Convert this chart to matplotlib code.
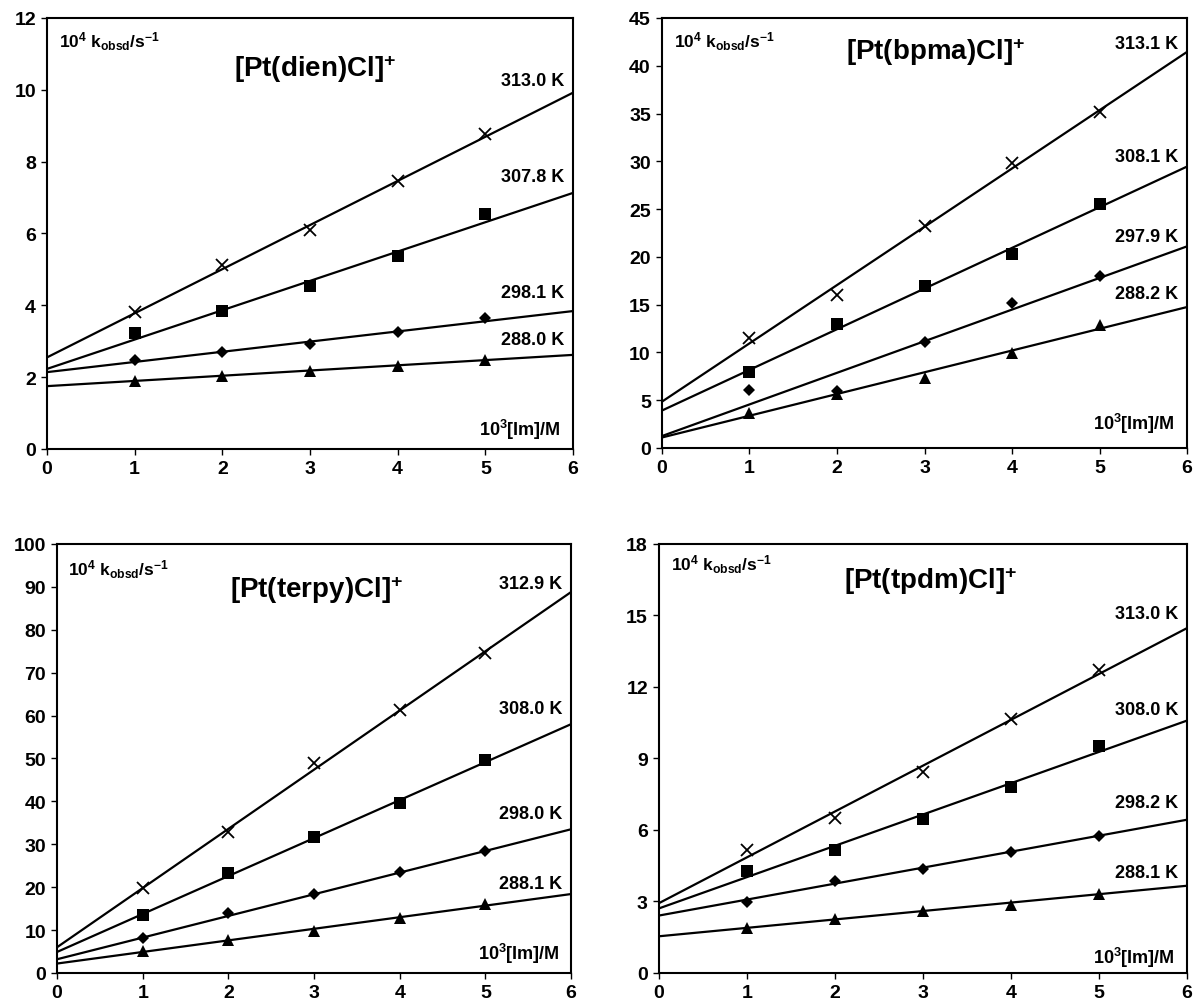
import matplotlib
matplotlib.use("Agg")
import matplotlib.pyplot as plt
import numpy as np

plt.rcParams['font.family'] = ['Liberation Sans', 'DejaVu Sans']
plt.rcParams['font.weight'] = 'bold'
plt.rcParams['mathtext.fontset'] = 'custom'
plt.rcParams['mathtext.rm'] = 'Liberation Sans:bold'
plt.rcParams['mathtext.it'] = 'Liberation Sans:bold'
plt.rcParams['mathtext.bf'] = 'Liberation Sans:bold'
plt.rcParams['mathtext.default'] = 'bf'

conc = [1, 2, 3, 4, 5]

# ---- [Pt(dien)Cl]+ ----
dien_temps = ["313.0 K", "307.8 K", "298.1 K", "288.0 K"]
dien_k313 = [3.81, 5.11, 6.10, 7.45, 8.78]
dien_k308 = [3.22, 3.84, 4.55, 5.36, 6.55]
dien_k298 = [2.49, 2.71, 2.93, 3.25, 3.64]
dien_k288 = [1.89, 2.03, 2.17, 2.30, 2.49]
dien_fit_start = [2.55, 2.23, 2.14, 1.75]
dien_fit_end = [9.92, 7.13, 3.84, 2.62]

# ---- [Pt(bpma)Cl]+ ----
bpma_temps = ["313.1 K", "308.1 K", "297.9 K", "288.2 K"]
bpma_k313 = [11.5, 16.05, 23.2, 29.8, 35.15]
bpma_k308 = [7.95, 12.95, 16.9, 20.35, 25.5]
bpma_k298 = [6.1, 5.95, 11.05, 15.2, 17.95]
bpma_k288 = [3.7, 5.7, 7.3, 9.95, 12.9]
bpma_fit_start = [4.85, 3.92, 1.25, 1.1]
bpma_fit_end = [41.45, 29.45, 21.1, 14.75]

# ---- [Pt(terpy)Cl]+ ----
terpy_temps = ["312.9 K", "308.0 K", "298.0 K", "288.1 K"]
terpy_k313 = [19.7, 32.9, 49.0, 61.2, 74.6]
terpy_k308 = [13.5, 23.2, 31.7, 39.6, 49.7]
terpy_k298 = [8.2, 13.9, 18.4, 23.6, 28.5]
terpy_k288 = [5.1, 7.7, 9.8, 12.9, 16.0]
terpy_fit_start = [6.0, 4.9, 3.2, 2.2]
terpy_fit_end = [88.8, 58.0, 33.5, 18.4]

# ---- [Pt(tpdm)Cl]+ ----
tpdm_temps = ["313.0 K", "308.0 K", "298.2 K", "288.1 K"]
tpdm_k313 = [5.15, 6.51, 8.44, 10.67, 12.72]
tpdm_k308 = [4.29, 5.16, 6.46, 7.82, 9.54]
tpdm_k298 = [2.99, 3.88, 4.38, 5.08, 5.74]
tpdm_k288 = [1.87, 2.27, 2.59, 2.85, 3.31]
tpdm_fit_start = [2.93, 2.71, 2.41, 1.54]
tpdm_fit_end = [14.47, 10.59, 6.43, 3.66]

titles = ["[Pt(dien)Cl]$^{+}$", "[Pt(bpma)Cl]$^{+}$", "[Pt(terpy)Cl]$^{+}$", "[Pt(tpdm)Cl]$^{+}$"]
ymax = [12, 45, 100, 18]
ystep = [2, 5, 10, 3]
x_ticks = [0, 1, 2, 3, 4, 5, 6]

panels = [
    (dien_temps, [dien_k313, dien_k308, dien_k298, dien_k288], dien_fit_start, dien_fit_end),
    (bpma_temps, [bpma_k313, bpma_k308, bpma_k298, bpma_k288], bpma_fit_start, bpma_fit_end),
    (terpy_temps, [terpy_k313, terpy_k308, terpy_k298, terpy_k288], terpy_fit_start, terpy_fit_end),
    (tpdm_temps, [tpdm_k313, tpdm_k308, tpdm_k298, tpdm_k288], tpdm_fit_start, tpdm_fit_end),
]

# layout (figure fractions) and label positions (axes fractions)
axes_rects = [
    [0.0393, 0.5518, 0.4398, 0.4293],
    [0.5535, 0.5528, 0.4390, 0.4283],
    [0.0477, 0.0299, 0.4298, 0.4273],
    [0.5510, 0.0299, 0.4415, 0.4273],
]
title_pos = [(0.51, 0.883), (0.522, 0.924), (0.504, 0.895), (0.514, 0.915)]
temp_label_y = [
    [0.856, 0.632, 0.362, 0.254],
    [0.940, 0.679, 0.491, 0.360],
    [0.907, 0.616, 0.372, 0.209],
    [0.837, 0.614, 0.398, 0.235],
]
klabel_y = [0.948, 0.946, 0.942, 0.953]
xlabel_y = [0.046, 0.058, 0.046, 0.037]

markers = [dict(marker='x', ms=9, mew=1.3, mfc='none'),
           dict(marker='s', ms=8.5, mew=0),
           dict(marker='D', ms=6.5, mew=0),
           dict(marker='^', ms=8, mew=0)]

fig = plt.figure(figsize=(11.96, 10.04), dpi=100)
for i, (temps, series, fs, fe) in enumerate(panels):
    ax = fig.add_axes(axes_rects[i])
    for j, ys in enumerate(series):
        ax.plot([0, 6], [fs[j], fe[j]], color='black', lw=1.6, solid_capstyle='butt', zorder=2)
        ax.plot(conc, ys, linestyle='none', color='black', zorder=3, clip_on=False, **markers[j])
        ax.text(0.983, temp_label_y[i][j], temps[j], transform=ax.transAxes,
                ha='right', va='center', fontsize=13, fontweight='bold')
    ax.set_xlim(0, 6)
    ax.set_ylim(0, ymax[i])
    yt = np.arange(0, ymax[i] + 0.1, ystep[i])
    ax.set_xticks(x_ticks, [str(v) for v in x_ticks])
    ax.set_yticks(yt, [str(int(v)) for v in yt])
    ax.tick_params(direction='out', length=4, width=1, pad=4, labelsize=14)
    for t in ax.xaxis.get_major_ticks() + ax.yaxis.get_major_ticks():
        t.label1.set_fontweight('heavy')
    for sp in ax.spines.values():
        sp.set_linewidth(1.5)
    ax.text(title_pos[i][0], title_pos[i][1], titles[i], transform=ax.transAxes,
            ha='center', va='center', fontsize=20, fontweight='bold')
    ax.text(0.022, klabel_y[i], r"10$^{4}$ k$_{\rm obsd}$/s$^{-1}$", transform=ax.transAxes,
            ha='left', va='center', fontsize=12.5, fontweight='bold')
    ax.text(0.977, xlabel_y[i], r"10$^{3}$[Im]/M", transform=ax.transAxes,
            ha='right', va='center', fontsize=13, fontweight='bold')

fig.savefig("out.png", dpi=100)
